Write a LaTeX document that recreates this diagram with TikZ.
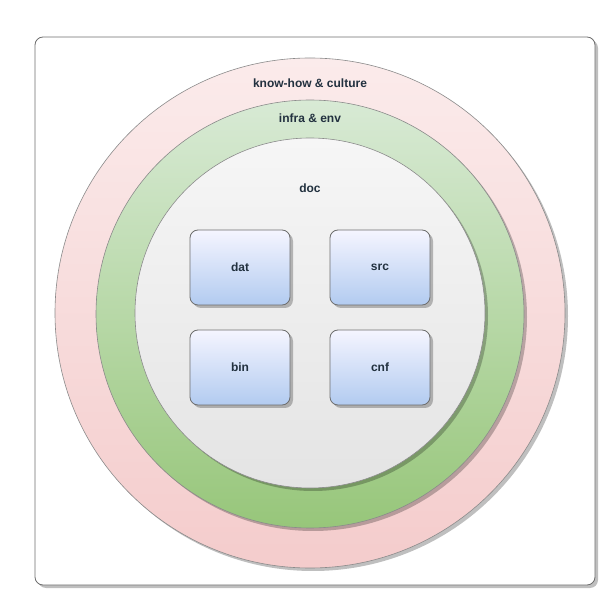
\documentclass[tikz,border=0pt]{standalone}
\usepackage{fontspec}
\setmainfont{Liberation Sans}
\usetikzlibrary{shadows}
\definecolor{txt}{HTML}{22313F}
\definecolor{edge}{HTML}{6E6E6E}
\tikzset{
  shade/.style={drop shadow={shadow xshift=3pt, shadow yshift=-3pt, fill=black, opacity=0.25}},
  ring/.style={circle, draw=edge!80, line width=0.6pt, shade, inner sep=0pt},
  box/.style={rectangle, rounded corners=8pt, draw=edge, line width=0.8pt, shade,
    minimum width=100pt, minimum height=75pt, top color=blue!4!white, bottom color={rgb,255:red,178;green,203;blue,240},
    font=\fontsize{12}{14}\selectfont\bfseries, text=txt},
  lbl/.style={font=\fontsize{12}{14}\selectfont\bfseries, text=txt}
}
\begin{document}
\begin{tikzpicture}[x=1pt, y=1pt]
  \useasboundingbox (0,0) rectangle (614,606);
  \draw[rounded corners=8pt, draw=edge, line width=0.8pt, fill=white, shade] (35,21) rectangle (595,569);

  % ringen
  \node[ring, minimum size=510pt, top color={rgb,255:red,251;green,235;blue,235}, bottom color={rgb,255:red,244;green,204;blue,204}] (culture) at (310,293) {};
  \node[ring, minimum size=428pt, top color={rgb,255:red,216;green,234;blue,213}, bottom color={rgb,255:red,151;green,198;blue,122}] (infra) at (310,292) {};
  \node[ring, minimum size=350pt, top color={rgb,255:red,246;green,246;blue,246}, bottom color={rgb,255:red,228;green,228;blue,228}] (doc) at (310,293) {};

  \node[lbl] (cultureLbl) at (310,523) {know-how \& culture};
  \node[lbl] (infraLbl) at (310,488) {infra \& env};
  \node[lbl] (docLbl) at (310,418) {doc};

  % blokken
  \node[box] (dat) at (240,338.5) {dat};
  \node[box] (src) at (380,338.5) {src};
  \node[box] (bin) at (240,238.5) {bin};
  \node[box] (cnf) at (380,238.5) {cnf};
\end{tikzpicture}
\end{document}
